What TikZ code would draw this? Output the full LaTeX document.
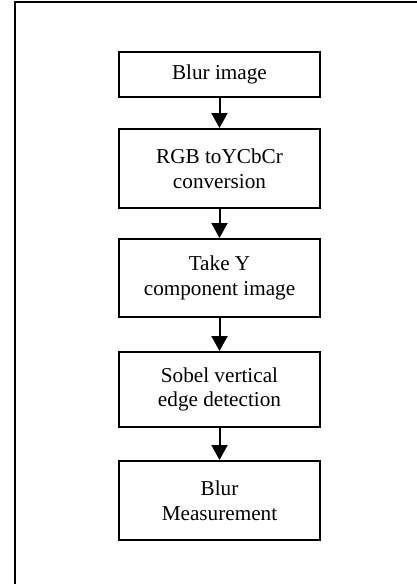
\documentclass[tikz,border=0pt]{standalone}
\usepackage{fontspec}
\setmainfont{Liberation Serif}
\usetikzlibrary{arrows.meta}
\usetikzlibrary{positioning}

\begin{document}
\begin{tikzpicture}[x=0.5pt,y=-0.5pt,
    blockbox/.style={draw,line width=1pt,minimum width=100.5pt,align=center,
      inner sep=0pt,font=\fontsize{10.6}{12.3}\selectfont},
    flowarrow/.style={line width=1pt,-{Triangle[width=8pt,length=7.5pt]}}]
      \useasboundingbox (0,0) rectangle (417,584);
      % frame, only top and left edges show
      \draw[line width=1pt] (15,584) -- (15,2) -- (417,2);
      \node[blockbox,minimum height=22.5pt] (blur) at (219.5,74.5) {Blur image};
      \node[blockbox,minimum height=39.5pt] (ycbcr) at (219.5,168.5) {RGB toYCbCr\\conversion};
      \node[blockbox,minimum height=39pt] (ycomp) at (219.5,278) {Take Y\\component image};
      \node[blockbox,minimum height=37.5pt] (sobel) at (219.5,389.5) {Sobel vertical\\edge detection};
      \node[blockbox,minimum height=39.5pt] (measure) at (219.5,500.5) {Blur\\Measurement};
      \draw[flowarrow] (blur) -- (ycbcr);
      \draw[flowarrow] (ycbcr) -- (ycomp);
      \draw[flowarrow] (ycomp) -- (sobel);
      \draw[flowarrow] (sobel) -- (measure);
\end{tikzpicture}
\end{document}
